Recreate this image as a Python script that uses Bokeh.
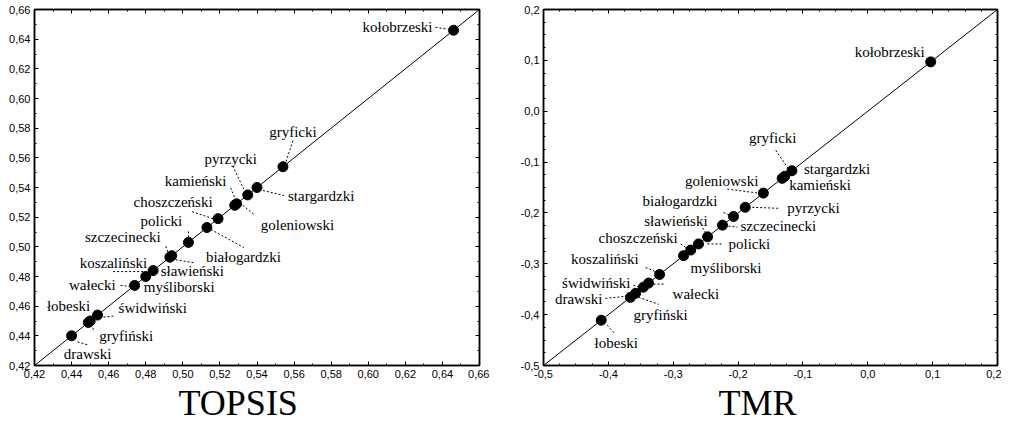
from bokeh.plotting import figure
from bokeh.models import (FixedTicker, CustomJSTickFormatter, LinearAxis, Range1d, Title)
from bokeh.layouts import row
from bokeh.core.properties import value
from bokeh.embed import file_html
from bokeh.resources import INLINE

# ---------------- data ----------------
names = ["kołobrzeski", "gryficki", "stargardzki", "pyrzycki", "kamieński", "goleniowski",
         "choszczeński", "białogardzki", "policki", "szczecinecki", "sławieński", "koszaliński",
         "myśliborski", "wałecki", "świdwiński", "łobeski", "gryfiński", "drawski"]
topsis = [0.646, 0.554, 0.540, 0.535, 0.529, 0.528, 0.519, 0.513, 0.503, 0.493, 0.494, 0.484,
          0.480, 0.474, 0.454, 0.449, 0.450, 0.440]
tmr = [0.097, -0.128, -0.117, -0.189, -0.132, -0.161, -0.273, -0.207, -0.261, -0.224, -0.247,
       -0.321, -0.284, -0.338, -0.346, -0.411, -0.358, -0.366]

topsis_ticks = [0.42, 0.44, 0.46, 0.48, 0.50, 0.52, 0.54, 0.56, 0.58, 0.60, 0.62, 0.64, 0.66]
topsis_minor = [0.42 + 0.01 * i for i in range(25)]
tmr_ticks = [-0.5, -0.4, -0.3, -0.2, -0.1, 0.0, 0.1, 0.2]
tmr_minor = [-0.5 + 0.025 * i for i in range(29)]

# ---------------- label layout (pixel offsets from the point; dy downward) ----------------
topsis_lab = [(-21, -3, "right"), (10, -35, "center"), (31, 8, "left"), (-17, -36, "center"),
              (-41, -23, "center"), (26, 20, "left"), (-45, -17, "center"), (-1, 29, "left"),
              (-27, -21, "center"), (-47, -20, "center"), (-11, 15, "left"), (-6, -8, "right"),
              (-2, 10, "left"), (-19, 0, "right"), (21, -7, "left"), (2, -16, "right"),
              (9, 15, "left"), (16, 18, "center")]
topsis_lead = [(-18, -3, -6, -1), (10, -26, 3, -5), (6, 3, 27, 8), (-15, -29, -4, -6),
               (-6, -16, -1, -4), (8, 0, 19, 9), (-26, -7, -5, 0), (4, 2, 37, 20),
               (0, -11, 0, -5), (-4, -11, -2, -5), (4, 4, 22, 7), (-40, 1, -8, 1),
               None, (-14, 0, -5, 1), (6, 2, 16, 1), None, (1, 3, 4, 10), (6, 6, 16, 9)]
tmr_lab = [(-41, -10, "center"), (-12, -38, "center"), (12, -2, "left"), (42, 1, "left"),
           (7, 7, "left"), (-5, -12, "right"), (-13, -12, "right"), (-16, -15, "right"),
           (30, 0, "left"), (18, 1, "left"), (0, -16, "right"), (-21, -15, "right"),
           (7, 12, "left"), (24, 11, "left"), (-13, -4, "right"), (15, 23, "center"),
           (-2, 22, "left"), (-28, 2, "right")]
tmr_lead = [None, (-9, -26, 4, -7), None, (7, 0, 35, 1), None, (-36, -4, -5, 0),
            (-10, -6, -4, -2), (-10, -4, -3, -1), (9, 0, 25, 0), (6, 1, 15, 2),
            (-5, -9, -2, -4), (-14, -7, -2, -2), None, (5, 1, 17, 1), (-10, -2, -4, 0),
            (6, 5, 14, 14), (3, 4, 23, 11), (-25, 1, -5, -1)]

SERIF = value("Liberation Serif")


def panel(vals, ticks, minor, digits, fw, fh, lab, lead, title, title_off, mbl, mbr):
    lo, hi = ticks[0], ticks[-1]
    p = figure(frame_width=fw, frame_height=fh, x_range=Range1d(lo, hi), y_range=Range1d(lo, hi),
               output_backend="svg", toolbar_location=None, min_border_left=mbl,
               min_border_right=mbr, min_border_top=9, min_border_bottom=0,
               background_fill_color="white", border_fill_color="white")
    p.grid.visible = False
    p.outline_line_color = "black"
    p.outline_line_width = 1.5
    fmt = CustomJSTickFormatter(code="return tick.toFixed(%d).replace('.', ',');" % digits)
    for ax in (p.xaxis[0], p.yaxis[0]):
        ax.ticker = FixedTicker(ticks=ticks, minor_ticks=minor)
        ax.formatter = fmt
        ax.major_tick_in = 4
        ax.major_tick_out = 0
        ax.minor_tick_in = 2
        ax.minor_tick_out = 0
        ax.major_label_standoff = 4
        ax.major_label_text_font = "Liberation Sans"
        ax.major_label_text_font_size = "11px"
        ax.major_label_text_color = "black"
        ax.axis_line_color = "black"
        ax.axis_line_width = 1.5
        ax.major_tick_line_color = "black"
        ax.minor_tick_line_color = "black"
    for side in ("above", "right"):
        ax = LinearAxis(ticker=FixedTicker(ticks=ticks, minor_ticks=minor),
                        formatter=CustomJSTickFormatter(code="return '';"),
                        major_tick_in=4, major_tick_out=0, minor_tick_in=2, minor_tick_out=0,
                        major_label_standoff=0, major_label_text_font_size="0px",
                        axis_line_color="black", axis_line_width=1.5)
        p.add_layout(ax, side)

    # diagonal
    p.line([lo, hi], [lo, hi], line_color="black", line_width=1)

    sx = fw / (hi - lo)
    sy = fh / (hi - lo)
    # leaders
    x0, y0, x1, y1 = [], [], [], []
    for v, ld in zip(vals, lead):
        if ld is None:
            continue
        ax_, ay_, bx_, by_ = ld
        x0.append(v + ax_ / sx); y0.append(v - ay_ / sy)
        x1.append(v + bx_ / sx); y1.append(v - by_ / sy)
    p.segment(x0, y0, x1, y1, line_color="black", line_width=1, line_dash="2 2")

    p.scatter(vals, vals, size=10, fill_color="black", line_color="black")

    for align in ("left", "center", "right"):
        xs, ys, ts = [], [], []
        for v, n, (dx, dy, a) in zip(vals, names, lab):
            if a != align:
                continue
            xs.append(v + dx / sx); ys.append(v - dy / sy); ts.append(n)
        p.text(xs, ys, text=ts, text_align=align, text_baseline="middle",
               text_font=SERIF, text_font_size="15px", text_color="black")

    p.add_layout(Title(text=title, align="left", offset=title_off, standoff=0,
                       text_font="Liberation Serif", text_font_size="36px",
                       text_font_style="normal", text_color="black"), "below")
    return p


p1 = panel(topsis, topsis_ticks, topsis_minor, 2, 445, 356, topsis_lab, topsis_lead,
           "TOPSIS", 144, 34, 10)
p2 = panel(tmr, tmr_ticks, tmr_minor, 1, 454, 356, tmr_lab, tmr_lead,
           "TMR", 175, 54, 4)

layout = row(p1, p2)
open("out.html", "w").write(file_html(layout, INLINE))
